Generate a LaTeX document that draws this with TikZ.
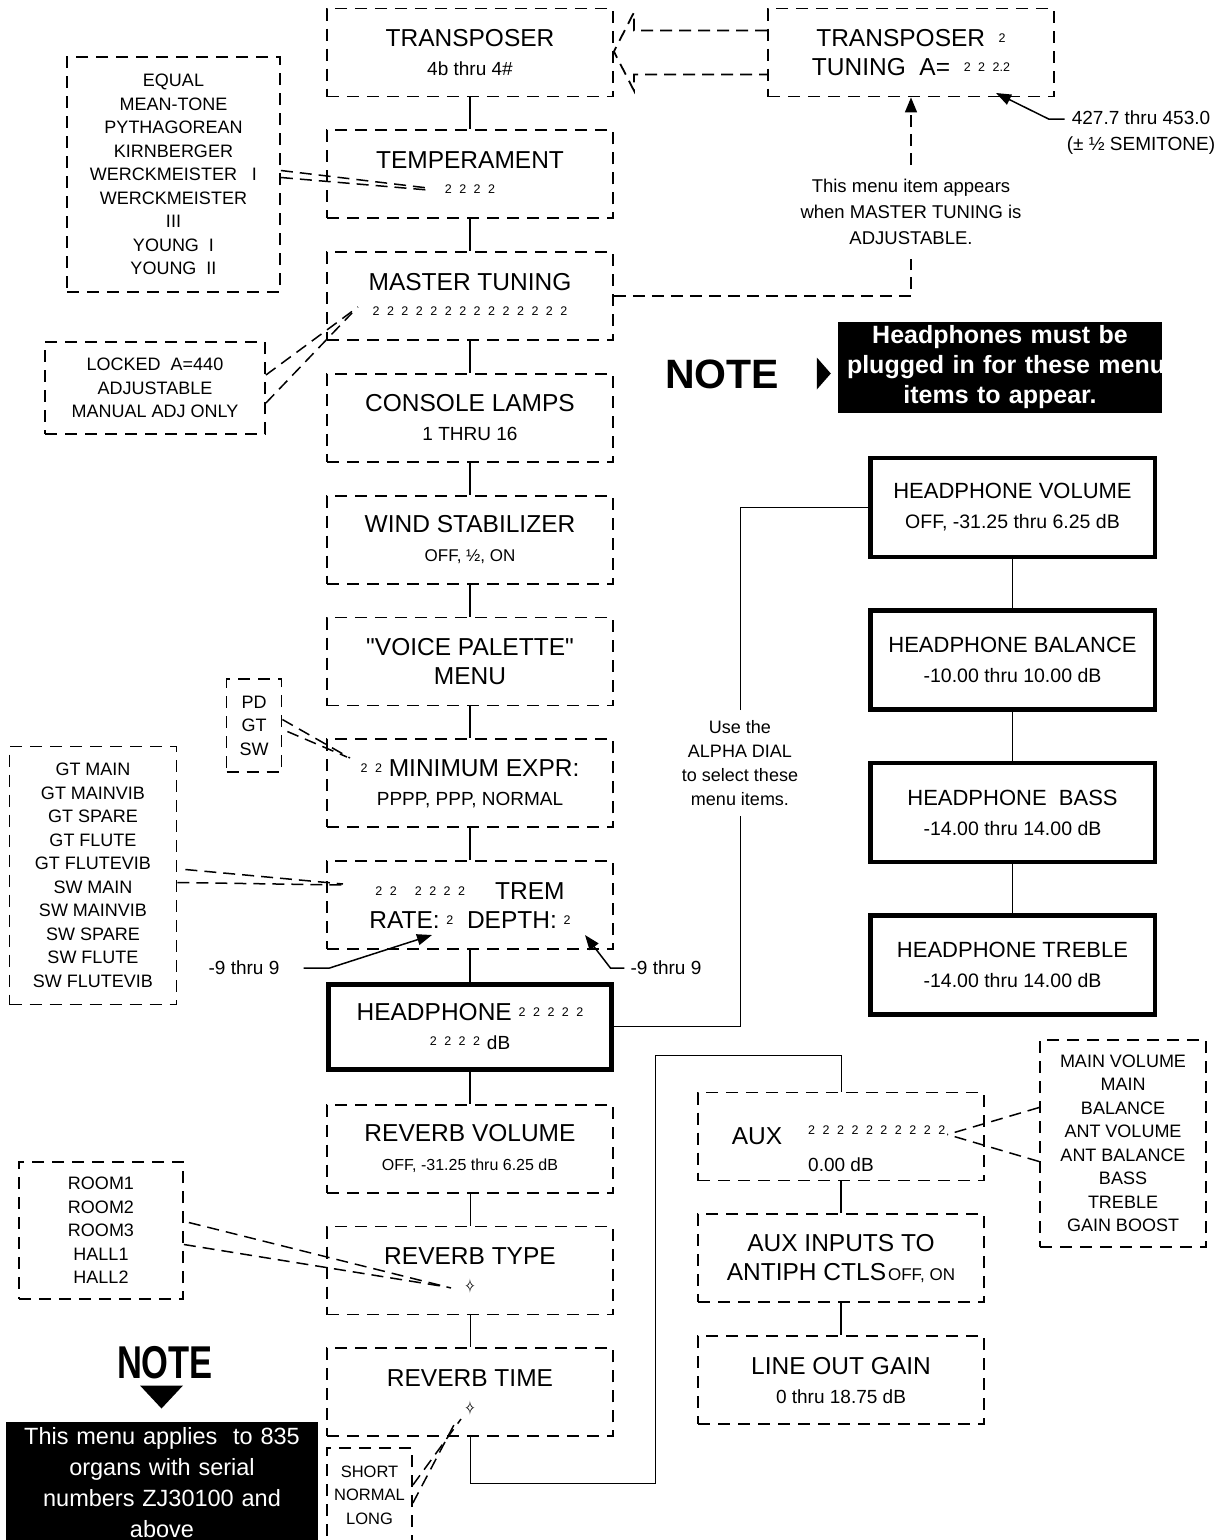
\documentclass[tikz,border=0pt]{standalone}
\usepackage{fontspec}
\usepackage{graphicx}
\setmainfont{Liberation Sans}
\newfontfamily\symfont{DejaVu Sans}
\usetikzlibrary{arrows.meta,positioning,calc}
\newcommand{\titlefont}{\fontsize{24.5}{29}\selectfont}
\newcommand{\valfont}{\fontsize{19}{23}\selectfont}
\newcommand{\hpfont}{\fontsize{22}{30}\selectfont}
\newcommand{\listfont}{\fontsize{18}{23.5}\selectfont}
\newcommand{\dig}[1]{\raisebox{4pt}{\fontsize{12.5}{12.5}\selectfont\spaceskip=7.5pt\relax #1}}
\newcommand{\dstar}{{\symfont\fontsize{20}{20}\selectfont\scalebox{0.65}[1]{✧}}}

\begin{document}
\begin{tikzpicture}[x=1pt, y=-1pt,
    node distance=32pt,
    menu/.style={draw, dash pattern=on 12pt off 8pt, line width=1.8pt,
                 minimum width=286pt, minimum height=88pt, align=center,
                 font=\titlefont, inner sep=0pt},
    hpmain/.style={draw, line width=4.5pt, minimum width=283.3pt, minimum height=85.3pt,
                   align=center, font=\titlefont, inner sep=0pt},
    hpbox/.style={draw, line width=4.5pt, minimum width=284.5pt, minimum height=99pt,
                  align=center, font=\hpfont, inner sep=0pt},
    optlist/.style={draw, dash pattern=on 12pt off 8pt, line width=1.8pt,
                    align=center, font=\listfont, inner sep=0pt},
    lead/.style={dash pattern=on 12pt off 7pt, line width=1.5pt},
    link/.style={line width=2pt},
    wire/.style={line width=0.9pt},
    pointer/.style={line width=1.5pt, -{Triangle[length=15pt,width=11pt]}},
    remark/.style={font=\fontsize{18.5}{26}\selectfont, align=center, inner sep=0pt},
    bigword/.style={font=\fontsize{41}{41}\selectfont\bfseries, inner sep=0pt},
    notebox/.style={fill=black, text=white, align=center, inner xsep=9pt, inner ysep=0pt}
]
\useasboundingbox (0,0) rectangle (1220,1540);

% Main menu column
\node[menu] (transp) at (470,52.5) {TRANSPOSER\\{\valfont 4b thru 4\#}};
\node[menu, below=of transp] (temper) {TEMPERAMENT\\\dig{2 2 2 2}};
\node[menu, below=of temper] (master) {MASTER TUNING\\\dig{2 2 2 2 2 2 2 2 2 2 2 2 2 2}};
\node[menu, below=of master] (lamps) {CONSOLE LAMPS\\{\valfont 1 THRU 16}};
\node[menu, below=of lamps] (wind) {WIND STABILIZER\\{\fontsize{17}{23}\selectfont OFF,\ ½,\ ON}};
\node[menu, below=of wind] (palette) {\textquotedbl VOICE PALETTE\textquotedbl\\MENU};
\node[menu, below=of palette] (minexpr) {\dig{2 2}\ MINIMUM EXPR:\\{\valfont PPPP, PPP, NORMAL}};
\node[menu, below=of minexpr] (trem) {\dig{2 2\hspace{18pt}2 2 2 2}\hspace{30pt}TREM\\RATE:\ \dig{2}\ \ DEPTH:\ \dig{2}};
\node[hpmain, below=of trem] (hp) {HEADPHONE\ \dig{2 2 2 2 2}\\\dig{2 2 2 2}\ {\valfont dB}};
\node[menu, below=of hp] (rvol) {REVERB VOLUME\\{\fontsize{16}{23}\selectfont OFF, -31.25 thru 6.25 dB}};
\node[menu, below=of rvol] (rtype) {REVERB TYPE\\\dstar};
\node[menu, below=of rtype] (rtime) {REVERB TIME\\\dstar};

\foreach \a/\b in {transp/temper, temper/master, master/lamps, lamps/wind, wind/palette,
                   palette/minexpr, minexpr/trem, trem/hp, hp/rvol}
  \draw[link] (\a) -- (\b);
\draw[wire] (rvol) -- (rtype);
\draw[wire] (rtype) -- (rtime);

% Transposer tuning
\node[menu] (tuning) at (911,52.5) {TRANSPOSER\ \ \dig{2}\\TUNING\ \ A=\ \ \dig{2 2 2.2}};
\draw[lead, line width=1.8pt] ($(tuning.west)+(0,-22)$) -- ($(transp.east)+(20,-22)$)
  -- ($(transp.east)+(20,-40)$) -- ($(transp.east)+(0,-1)$) -- ($(transp.east)+(20,38)$)
  -- ($(transp.east)+(20,22)$) -- ($(tuning.west)+(0,22)$);
\node[remark, inner ysep=14pt] (appear) at (911,212) {This menu item appears\\when MASTER TUNING is\\ADJUSTABLE.};
\draw[lead] (master.east) -| (appear.south);
\draw[lead, -{Triangle[length=15pt,width=12pt]}] (appear.north) -- (tuning.south);
\node[remark, font=\fontsize{19}{26}\selectfont] (range) at (1141,133) {427.7 thru 453.0\\(± ½ SEMITONE)};
\coordinate (tuneval) at (996,93);
\draw[pointer] ($(range.west)+(-2,-14)$) -- ++(-16,0) -- (tuneval);

% Option lists on the left
\node[optlist, minimum width=213pt, minimum height=235pt] (templist) at (173.5,174.5)
  {EQUAL\\MEAN-TONE\\PYTHAGOREAN\\KIRNBERGER\\WERCKMEISTER\ \ \ I\\WERCKMEISTER\\III\\YOUNG\ \ I\\YOUNG\ \ II};
\coordinate (tempval) at (428,188);
\draw[lead] ($(templist.east)+(0,-4)$) -- (tempval);
\draw[lead] ($(templist.east)+(0,3)$) -- ($(tempval)+(0,2)$);

\node[optlist, minimum width=220pt, minimum height=92pt] (tunelist) at (155,388)
  {LOCKED\ \ A=440\\ADJUSTABLE\\MANUAL ADJ ONLY};
\coordinate (masterval) at (358,307);
\draw[lead] ($(tunelist.east)+(0,-13)$) -- (masterval);
\draw[lead] ($(tunelist.east)+(0,15)$) -- ($(masterval)+(-6,6)$);

\node[optlist, minimum width=55pt, minimum height=93pt] (divlist) at (254,725.5) {PD\\GT\\SW};
\coordinate (divval) at (350,758);
\draw[lead] ($(divlist.east)+(0,-6)$) -- (divval);
\draw[lead] ($(divlist.east)+(5,6)$) -- ($(divval)+(-3,-1)$);

\node[optlist, minimum width=167pt, minimum height=258pt] (voicelist) at (93,875.5)
  {GT MAIN\\GT MAINVIB\\GT SPARE\\GT FLUTE\\GT FLUTEVIB\\SW MAIN\\SW MAINVIB\\SW SPARE\\SW FLUTE\\SW FLUTEVIB};
\coordinate (voiceval) at (343,884);
\draw[lead] ($(voicelist.east)+(8,-6)$) -- (voiceval);
\draw[lead] ($(voicelist.east)+(0,7)$) -- ($(voiceval)+(0,1)$);

% Rate and depth ranges
\node[remark, font=\valfont] (ratelbl) at (244,968) {-9 thru 9};
\coordinate (rateval) at (432,935);
\draw[pointer] ($(ratelbl.east)+(24,0)$) -- ++(26,0) -- (rateval);
\node[remark, font=\valfont] (depthlbl) at (666,968) {-9 thru 9};
\coordinate (depthval) at (585,935);
\draw[pointer] ($(depthlbl.west)+(-6,0)$) -- ++(-14,0) -- (depthval);

% Headphone menu items
\node[hpbox] (hpvol) at (1012.5,507.5) {HEADPHONE VOLUME\\{\fontsize{19.5}{24}\selectfont OFF, -31.25 thru 6.25 dB}};
\node[hpbox, below=49pt of hpvol] (hpbal) {HEADPHONE BALANCE\\{\fontsize{19.5}{24}\selectfont -10.00 thru 10.00 dB}};
\node[hpbox, below=49pt of hpbal] (hpbass) {HEADPHONE\ \ BASS\\{\fontsize{19.5}{24}\selectfont -14.00 thru 14.00 dB}};
\node[hpbox, below=49pt of hpbass] (hptreb) {HEADPHONE TREBLE\\{\fontsize{19.5}{24}\selectfont -14.00 thru 14.00 dB}};
\draw[wire, line width=1.3pt] (hpvol) -- (hpbal);
\draw[wire, line width=1.3pt] (hpbal) -- (hpbass);
\draw[wire, line width=1.3pt] (hpbass) -- (hptreb);

\node[remark, font=\fontsize{18}{24}\selectfont, inner ysep=10pt] (alpha) at (740,763)
  {Use the\\ALPHA DIAL\\to select these\\menu items.};
\draw[wire] (hp.east) -| (alpha.south);
\draw[wire] (alpha.north) |- (hpvol.west);

\node[bigword] (hpnotelbl) at (722,374) {NOTE};
\node[notebox, text width=306pt, minimum height=91pt, font=\fontsize{25}{30}\selectfont\bfseries]
  (hpnote) at (1000,367.5) {Headphones must be\\\mbox{plugged in for these menu}\\items to appear.};
\fill ($(hpnote.west)+(-21,-10)$) -- ($(hpnote.west)+(-21,22)$) -- ($(hpnote.west)+(-7,6)$) -- cycle;

% Reverb options
\node[optlist, minimum width=164pt, minimum height=137pt] (roomlist) at (101,1230.5)
  {ROOM1\\ROOM2\\ROOM3\\HALL1\\HALL2};
\coordinate (typeval) at (451,1288);
\draw[lead] ($(roomlist.east)+(5,-8)$) -- (typeval);
\draw[lead] ($(roomlist.east)+(0,14)$) -- ($(typeval)+(-4,-1)$);

\node[optlist, minimum width=85pt, minimum height=94pt, font=\fontsize{16.5}{23.5}\selectfont]
  (timelist) at (369.5,1495) {SHORT\\NORMAL\\LONG};
\coordinate (timeval) at (461,1419);
\draw[lead] ($(timelist.east)+(0,-10)$) -- (timeval);
\draw[lead] ($(timelist.east)+(0,8)$) -- ($(timeval)+(-5,2)$);

% Serial number note
\node[bigword, font=\fontsize{46}{46}\selectfont\bfseries] (menunotelbl) at (165,1363) {\scalebox{0.75}[1]{NOTE}};
\fill ($(menunotelbl.south)+(-25,6)$) -- ($(menunotelbl.south)+(18,6)$) -- ($(menunotelbl.south)+(-3.5,29)$) -- cycle;
\node[notebox, text width=294pt, anchor=north, font=\fontsize{23.5}{31}\selectfont, inner ysep=5pt]
  (menunote) at (162,1422) {This menu applies\ \ to 835\\organs with serial\\numbers ZJ30100 and\\above};

% Aux menu column
\node[menu] (aux) at (841,1136.5) {};
\node[font=\titlefont, inner sep=0pt] (auxname) at ($(aux.center)+(-84,0)$) {AUX};
\node[anchor=west, inner sep=0pt] (auxsel) at ($(aux.center)+(-33,-4)$) {\dig{2 2 2 2 2 2 2 2 2 2}};
\node[anchor=west, inner sep=0pt, font=\valfont] (auxval) at ($(aux.center)+(-33,28)$) {0.00 dB};
\node[menu, below=of aux] (auxin) {AUX INPUTS TO\\ANTIPH CTLS\hspace{2pt}{\fontsize{17}{20}\selectfont OFF, ON}};
\node[menu, below=of auxin] (lineout) {LINE OUT GAIN\\{\valfont 0 thru 18.75 dB}};
\draw[link] (aux) -- (auxin);
\draw[link] (auxin) -- (lineout);

\node[optlist, minimum width=166pt, minimum height=207pt] (auxlist) at (1123,1143.5)
  {MAIN VOLUME\\MAIN\\BALANCE\\ANT VOLUME\\ANT BALANCE\\BASS\\TREBLE\\GAIN BOOST};
\draw[lead] ($(auxlist.west)+(0,-36)$) -- ($(auxsel.east)+(2,2)$);
\draw[lead] ($(auxlist.west)+(0,18)$) -- ($(auxsel.east)+(2,2)$);

\coordinate (auxbend) at (655,1055);
\draw[wire] (rtime.south) -- ++(0,46) -| (auxbend) -| (aux.north);

\end{tikzpicture}
\end{document}
